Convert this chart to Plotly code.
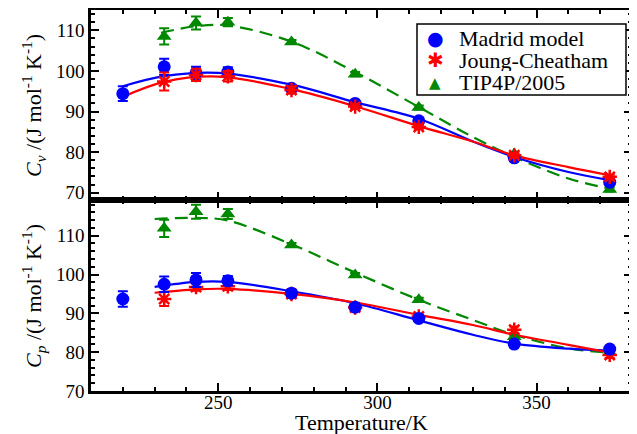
import plotly.graph_objects as go

# ---------------- data ----------------
T = [220, 233, 243, 253, 273, 293, 313, 343, 373]

# Upper panel: Cv
cv_madrid = [94.4, 101.0, 99.5, 99.7, 95.7, 92.0, 87.7, 78.6, 72.6]
cv_madrid_err = [1.8, 2.0, 1.5, 1.2, 0.8, 0.5, 0.5, 0.5, 0.5]
cv_jc_T = [233, 243, 253, 273, 293, 313, 343, 373]
cv_jc = [97.4, 99.0, 98.7, 95.3, 91.2, 86.2, 79.2, 73.9]
cv_jc_err = [2.2, 1.5, 1.3, 0.8, 0.5, 0.5, 0.5, 0.5]
cv_tip_T = [233, 243, 253, 273, 293, 313, 343, 373]
cv_tip = [108.5, 111.8, 112.0, 107.1, 99.2, 91.0, 79.5, 70.8]
cv_tip_err = [2.0, 1.6, 1.0, 0.5, 0.5, 0.5, 0.5, 0.5]

# fitted curves
cv_fit_madrid_T = [220, 233, 250, 273, 293, 313, 330, 343, 360, 373]
cv_fit_madrid = [96.2, 98.7, 99.5, 96.6, 92.3, 88.2, 82.6, 78.8, 75.1, 73.1]
cv_fit_jc_T = [220, 233, 250, 273, 293, 313, 330, 343, 360, 373]
cv_fit_jc = [93.6, 97.3, 98.6, 95.5, 91.3, 86.4, 82.6, 79.2, 76.3, 74.3]
cv_fit_tip_T = [232, 243, 253, 273, 293, 313, 330, 343, 360, 373]
cv_fit_tip = [109.4, 111.0, 111.2, 107.2, 99.7, 91.1, 83.7, 78.8, 73.5, 71.0]

# Lower panel: Cp
cp_madrid = [93.7, 97.5, 98.6, 98.4, 95.2, 91.6, 88.7, 82.1, 80.8]
cp_madrid_err = [2.0, 2.0, 1.8, 1.2, 0.8, 0.5, 0.5, 0.5, 0.5]
cp_jc_T = [233, 243, 253, 273, 293, 313, 343, 373]
cp_jc = [93.7, 96.8, 97.0, 95.0, 91.5, 89.2, 85.8, 79.3]
cp_jc_err = [1.8, 1.0, 1.0, 0.8, 0.5, 0.5, 0.8, 0.8]
cp_tip_T = [233, 243, 253, 273, 293, 313, 343, 373]
cp_tip = [111.9, 116.2, 115.6, 107.6, 99.9, 93.5, 84.0, 80.0]
cp_tip_err = [2.2, 1.8, 1.3, 0.5, 0.5, 0.5, 0.5, 0.5]

cp_fit_madrid_T = [230, 243, 253, 273, 293, 313, 330, 343, 360, 373]
cp_fit_madrid = [96.8, 98.1, 98.1, 95.7, 92.6, 88.2, 84.5, 82.2, 80.9, 80.4]
cp_fit_jc_T = [230, 243, 253, 273, 293, 313, 330, 343, 360, 373]
cp_fit_jc = [95.3, 96.2, 96.3, 95.0, 92.8, 89.6, 87.0, 84.5, 81.9, 79.9]
cp_fit_tip_T = [230, 243, 253, 273, 293, 313, 330, 343, 360, 373]
cp_fit_tip = [114.3, 114.6, 113.9, 107.8, 100.5, 93.5, 88.3, 84.5, 81.0, 79.9]

series_names = ["Madrid model", "Joung-Cheatham", "TIP4P/2005"]
legend_glyphs = ["●", "✱", "▲"]

BLUE = "#0000ff"
RED = "#ff0000"
GREEN = "#008800"
series_colors = [BLUE, RED, GREEN]
FONT = "Liberation Serif, DejaVu Serif, serif"

fig = go.Figure()

def line(x, y, color, axes, dash=None):
    xa, ya = axes
    fig.add_trace(go.Scatter(x=x, y=y, mode="lines", line=dict(color=color, width=2.2, shape="spline", dash=dash),
                             showlegend=False, xaxis=xa, yaxis=ya, hoverinfo="skip"))

def pts(x, y, err, color, symbol, axes, name):
    xa, ya = axes
    if symbol == "asterisk-open":
        marker = dict(symbol=symbol, size=12, color=color, line=dict(color=color, width=2.5))
    else:
        marker = dict(symbol=symbol, size=13, color=color, line=dict(width=0))
    fig.add_trace(go.Scatter(x=x, y=y, mode="markers", marker=marker, name=name,
                             error_y=dict(type="data", array=err, color=color, thickness=2, width=5),
                             showlegend=False, xaxis=xa, yaxis=ya))

up = ("x2", "y2")
lo = ("x", "y")
dash = "13px,7px"

# upper panel
line(cv_fit_tip_T, cv_fit_tip, GREEN, up, dash)
line(cv_fit_madrid_T, cv_fit_madrid, BLUE, up)
line(cv_fit_jc_T, cv_fit_jc, RED, up)
pts(cv_tip_T, cv_tip, cv_tip_err, GREEN, "triangle-up", up, series_names[2])
pts(T, cv_madrid, cv_madrid_err, BLUE, "circle", up, series_names[0])
pts(cv_jc_T, cv_jc, cv_jc_err, RED, "asterisk-open", up, series_names[1])

# lower panel
line(cp_fit_tip_T, cp_fit_tip, GREEN, lo, dash)
line(cp_fit_madrid_T, cp_fit_madrid, BLUE, lo)
line(cp_fit_jc_T, cp_fit_jc, RED, lo)
pts(cp_tip_T, cp_tip, cp_tip_err, GREEN, "triangle-up", lo, series_names[2])
pts(cp_jc_T, cp_jc, cp_jc_err, RED, "asterisk-open", lo, series_names[1])
pts(T, cp_madrid, cp_madrid_err, BLUE, "circle", lo, series_names[0])

# page offset (default body margin) and plot area in page pixels
OFF = 8
FW, FH = 637 - OFF, 434 - OFF
PL, PR, PT, PB = 91, 632, 10, 391
W, H = PR - PL, PB - PT
def px(xp):
    return (xp - PL) / W
def py(yp):
    return (PB - yp) / H

split = py(200)

minor_x = dict(dtick=10, tick0=0, ticks="inside", ticklen=4, tickwidth=1.5, tickcolor="black")
minor_y = dict(dtick=2, tick0=0, ticks="inside", ticklen=4, tickwidth=1.5, tickcolor="black")
axis_common = dict(showline=True, linecolor="black", linewidth=2.5, mirror="allticks",
                   ticks="inside", ticklen=8, tickwidth=2, tickcolor="black",
                   showgrid=False, zeroline=False,
                   tickfont=dict(family=FONT, size=19, color="black"))

annotations = [
    dict(text="Temperature/K", x=0.5, y=py(422), xref="paper", yref="paper",
         xanchor="center", yanchor="middle", showarrow=False, height=24,
         font=dict(family=FONT, size=22, color="black")),
    dict(text="<i>C</i><sub><i>v</i></sub> /(J mol<sup>-1</sup> K<sup>-1</sup>)",
         x=px(33), y=py(106), xref="paper", yref="paper", textangle=-90,
         xanchor="center", yanchor="middle", showarrow=False,
         font=dict(family=FONT, size=22, color="black")),
    dict(text="<i>C</i><sub><i>p</i></sub> /(J mol<sup>-1</sup> K<sup>-1</sup>)",
         x=px(33), y=py(296), xref="paper", yref="paper", textangle=-90,
         xanchor="center", yanchor="middle", showarrow=False,
         font=dict(family=FONT, size=22, color="black")),
]

# legend (box + entries)
row_y = [38, 60, 83]
glyph_sizes = [19, 20, 15]
for name, glyph, color, ry, gs in zip(series_names, legend_glyphs, series_colors, row_y, glyph_sizes):
    annotations.append(dict(text=glyph, x=px(435), y=py(ry), xref="paper", yref="paper",
                            xanchor="center", yanchor="middle", showarrow=False,
                            font=dict(family="DejaVu Sans", size=gs, color=color)))
    annotations.append(dict(text=name, x=px(457), y=py(ry), xref="paper", yref="paper",
                            xanchor="left", yanchor="middle", showarrow=False, height=21,
                            font=dict(family=FONT, size=22, color="black")))

shapes = [dict(type="rect", xref="paper", yref="paper", x0=px(417), x1=px(626), y0=py(95), y1=py(24),
               line=dict(color="black", width=1.5), fillcolor="white", layer="above")]

fig.update_layout(
    width=FW, height=FH,
    margin=dict(l=PL - OFF, r=637 - PR, t=PT - OFF, b=434 - PB, autoexpand=False),
    paper_bgcolor="white", plot_bgcolor="white",
    font=dict(family=FONT, color="black"),
    showlegend=False,
    xaxis=dict(domain=[0, 1], anchor="y", range=[210, 380], dtick=50, tick0=0,
               ticklabelstandoff=-8, minor=minor_x, **axis_common),
    xaxis2=dict(domain=[0, 1], anchor="y2", range=[210, 380], dtick=50, tick0=0, matches="x",
                showticklabels=False, minor=minor_x, **axis_common),
    yaxis=dict(domain=[0, split], anchor="x", range=[70, 119.2], dtick=10, tick0=0,
               minor=minor_y, **axis_common),
    yaxis2=dict(domain=[split, 1], anchor="x2", range=[68.2, 115], dtick=10, tick0=0,
                minor=minor_y, **axis_common),
    annotations=annotations,
    shapes=shapes,
)

fig.write_html("out.html")
